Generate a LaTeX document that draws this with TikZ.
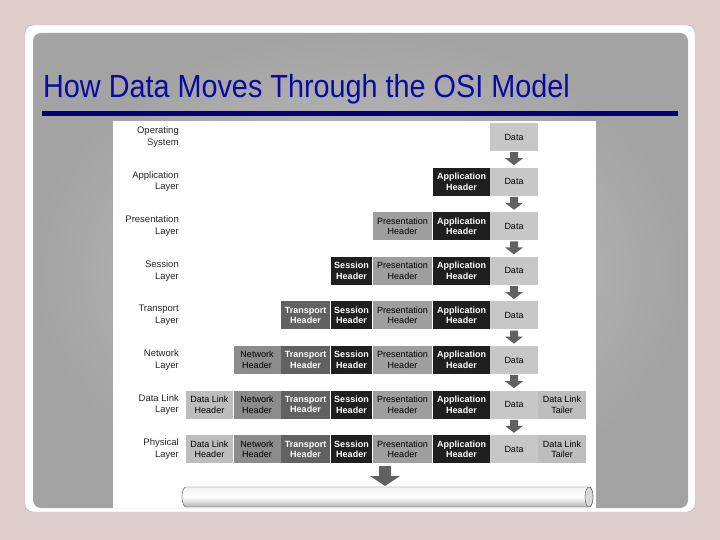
\documentclass[tikz,border=0pt]{standalone}
\usepackage{fontspec}
\setmainfont{Liberation Sans}
\begin{document}
\begin{tikzpicture}[x=1pt,y=-1pt,
  cell/.style={draw=none,minimum height=28pt,inner sep=0pt,align=center,font=\fontsize{9}{10.5}\selectfont},
  dk/.style={cell,text=white,font=\fontsize{9}{10.5}\selectfont\bfseries},
  lbl/.style={anchor=east,align=right,inner sep=0pt,font=\fontsize{9.5}{11.5}\selectfont,text=black!85},
  arr/.style={fill=black!62,draw=none}]
\useasboundingbox (0,0) rectangle (720,540);
\fill[fill={rgb,255:red,222;green,205;blue,203}] (0,0) rectangle (720,540);
\node[draw=black!30,fill=white,rounded corners=8pt,minimum width=670pt,minimum height=487pt,inner sep=0pt] (frame) at (360,268.5) {};
\node[inner color=black!22,outer color=black!36,rounded corners=8pt,minimum width=655pt,minimum height=475pt,inner sep=0pt] (inner) at (360.5,270.5) {};
\node[anchor=base west,inner sep=0pt,xscale=0.9,text={rgb,255:red,10;green,10;blue,160},font=\fontsize{32}{34}\selectfont] (title) at (43,98) {How Data Moves Through the OSI Model};
\node[fill={rgb,255:red,0;green,0;blue,120},minimum width=636pt,minimum height=5pt,inner sep=0pt] (bar) at (360,113.5) {};
\node[fill=white,minimum width=483pt,minimum height=387pt,inner sep=0pt] (panel) at (354.5,314.5) {};
% OS row
\node[lbl] (l0) at (179,137) {Operating\\System};
\node[cell,fill=black!22,minimum width=48pt] (d0) at (514,137) {Data};
\foreach \i/\lab/\first in {1/{Application\\Layer}/6,2/{Presentation\\Layer}/5,3/{Session\\Layer}/4,4/{Transport\\Layer}/3,5/{Network\\Layer}/2,6/{Data Link\\Layer}/1,7/{Physical\\Layer}/1}{
  \pgfmathsetmacro\yy{137+44.6*\i}
  \node[lbl] (l\i) at (179,\yy) {\lab};
  \node[cell,fill=black!22,minimum width=48pt] (d\i) at (514,\yy) {Data};
  \ifnum\first<7 \node[dk,fill=black!88,minimum width=57pt] (a\i) at (461.5,\yy) {Application\\Header};\fi
  \ifnum\first<6 \node[cell,fill=black!38,minimum width=59pt] (p\i) at (402.5,\yy) {Presentation\\Header};\fi
  \ifnum\first<5 \node[dk,fill=black!88,minimum width=41pt] (s\i) at (351.5,\yy) {Session\\Header};\fi
  \ifnum\first<4 \node[dk,fill=black!62,minimum width=49pt] (t\i) at (305.5,\yy) {Transport\\Header};\fi
  \ifnum\first<3 \node[cell,fill=black!45,minimum width=47pt] (n\i) at (257,\yy) {Network\\Header};\fi
  \ifnum\first<2 \node[cell,fill=black!26,minimum width=47pt] (k\i) at (209.5,\yy) {Data Link\\Header};
    \node[cell,fill=black!26,minimum width=48pt] (e\i) at (562,\yy) {Data Link\\Tailer};\fi
}
% arrows
\foreach \i in {0,...,6}{
  \path (d\i.south) coordinate (as\i);
  \fill[arr] ([xshift=-4pt,yshift=-1pt]as\i) -- ([xshift=4pt,yshift=-1pt]as\i) -- ([xshift=4pt,yshift=-7pt]as\i) -- ([xshift=9pt,yshift=-7pt]as\i) -- ([yshift=-14pt]as\i) -- ([xshift=-9pt,yshift=-7pt]as\i) -- ([xshift=-4pt,yshift=-7pt]as\i) -- cycle;
}
\coordinate (ba) at (385,466);
\fill[arr] ([xshift=-6pt]ba) -- ([xshift=6pt]ba) -- ([xshift=6pt,yshift=-10pt]ba) -- ([xshift=15pt,yshift=-10pt]ba) -- ([yshift=-20pt]ba) -- ([xshift=-15pt,yshift=-10pt]ba) -- ([xshift=-6pt,yshift=-10pt]ba) -- cycle;
% pipe
\shade[top color=black!5,bottom color=black!30,middle color=white,draw=black!70] (186,487) -- (589,487) arc[start angle=90,end angle=-90,x radius=4pt,y radius=10pt] -- (186,507) arc[start angle=270,end angle=90,x radius=4pt,y radius=10pt] -- cycle;
\draw[black!70,fill=black!15] (589,497) ellipse[x radius=4pt,y radius=10pt];
\end{tikzpicture}
\end{document}
